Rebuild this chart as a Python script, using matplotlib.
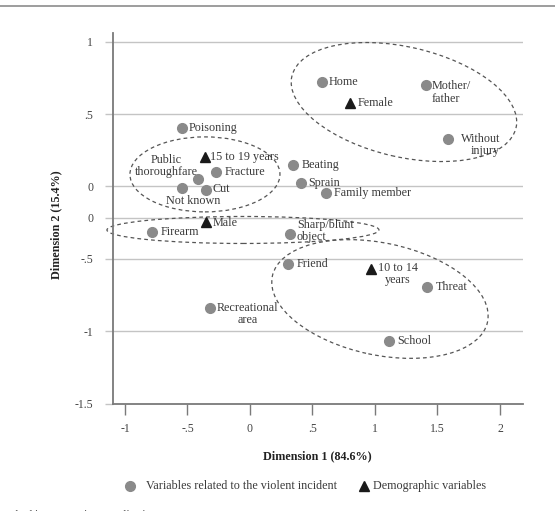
import matplotlib
matplotlib.use("Agg")
import matplotlib.pyplot as plt
from matplotlib.patches import Ellipse
from matplotlib.lines import Line2D
from matplotlib.transforms import ScaledTranslation

plt.rcParams['font.family'] = ['Liberation Serif', 'DejaVu Serif']

# Variables related to the violent incident (circles)
inc_labels = ["Home", "Mother/\nfather", "Without\ninjury", "Poisoning", "Fracture",
              "Public\nthoroughfare", "Not known", "Cut", "Beating", "Sprain",
              "Family member", "Firearm", "Sharp/blunt\nobject", "Friend", "Threat",
              "Recreational\narea", "School"]
inc_x = [0.574, 1.406, 1.586, -0.546, -0.272, -0.414, -0.546, -0.352, 0.342, 0.406,
         0.608, -0.786, 0.320, 0.302, 1.416, -0.320, 1.110]
inc_y = [0.719, 0.704, 0.328, 0.406, 0.097, 0.053, -0.013, -0.025, 0.148, 0.026,
         -0.048, -0.317, -0.329, -0.536, -0.693, -0.842, -1.066]

# Demographic variables (triangles)
dem_labels = ["Female", "15 to 19 years", "Male", "10 to 14\nyears"]
dem_x = [0.798, -0.362, -0.352, 0.966]
dem_y = [0.578, 0.203, -0.249, -0.571]

yticks = [1, 0.5, 0, -0.215, -0.5, -1, -1.5]
ytick_labels = ["1", ".5", "0", "0", "-.5", "-1", "-1.5"]
xticks = [-1, -0.5, 0, 0.5, 1, 1.5, 2]
xtick_labels = ["-1", "-.5", "0", ".5", "1", "1.5", "2"]

W, H = 555, 511
fig = plt.figure(figsize=(W / 100, H / 100), dpi=100)
ax = fig.add_axes([112.7 / W, 1 - 403.5 / H, 410 / W, 370.5 / H])
ax.set_xlim(-1.098, 2.182)
ax.set_ylim(-1.5, 1.06)

txt_col = '#3a3a3a'
grid_col = '#c4c4c4'

# grid lines
for yv in yticks[:-1]:
    ax.axhline(yv, color=grid_col, lw=1.0, zorder=0)

for s in ['top', 'right']:
    ax.spines[s].set_visible(False)
for s in ['left', 'bottom']:
    ax.spines[s].set_color('#7a7a7a')
    ax.spines[s].set_linewidth(1.3)

ax.set_xticks(xticks)
ax.set_xticklabels(xtick_labels)
ax.set_yticks(yticks)
ax.set_yticklabels(ytick_labels)
ax.tick_params(axis='x', direction='out', length=8, width=1.0, color='#7a7a7a',
               labelsize=8.5, labelcolor='#444444', pad=6)
ax.tick_params(axis='y', direction='out', length=6, width=1.0, color=grid_col,
               labelsize=8.5, labelcolor='#444444', pad=8)

ax.set_xlabel("Dimension 1 (84.6%)", fontsize=8.7, fontweight='bold', color='#222222', labelpad=11)
ax.set_ylabel("Dimension 2 (15.4%)", fontsize=8.7, fontweight='bold', color='#222222')
ax.yaxis.set_label_coords(-0.122, 0.482)

# points
ax.plot(inc_x, inc_y, 'o', ms=7, color='#8a8a8a', mec='#8a8a8a', ls='none', zorder=3)
ax.plot(dem_x, dem_y, '^', ms=7, color='#1a1a1a', ls='none', zorder=3)

# label offsets in pixels (dx, dy), alignment
inc_off = [(7, 0, 'left', 'left'), (6, -8, 'left', 'left'), (52, -6, 'right', 'right'),
           (7, 0, 'left', 'left'), (9, 0, 'left', 'left'), (-32, 13, 'center', 'center'),
           (11, -12.5, 'center', 'center'), (7, 1, 'left', 'left'), (9, 0, 'left', 'left'),
           (8, 0, 'left', 'left'), (8, 0, 'left', 'left'), (9, 0, 'left', 'left'),
           (7, 3, 'left', 'left'), (9, 0, 'left', 'left'), (9, 0, 'left', 'left'),
           (7, -6, 'left', 'center'), (9, 0, 'left', 'left')]
dem_off = [(8, 0, 'left', 'left'), (5.5, 0, 'left', 'left'), (7, -1, 'left', 'left'),
           (7, -5, 'left', 'center')]

def put(labels, xs, ys, offs):
    for lab, x, y, (dx, dy, ha, ma) in zip(labels, xs, ys, offs):
        ax.annotate(lab, (x, y), xytext=(dx, dy), textcoords='offset pixels',
                    ha=ha, va='center', multialignment=ma, fontsize=8.7,
                    color=txt_col, linespacing=1.05, zorder=4)

put(inc_labels, inc_x, inc_y, inc_off)
put(dem_labels, dem_x, dem_y, dem_off)

# dashed ellipses (center in data, size in inches)
ell_cx = [1.232, -0.36, -0.056, 1.04]
ell_cy = [0.583, 0.083, -0.301, -0.778]
ell_w = [2.30, 1.50, 2.72, 2.20]
ell_h = [1.10, 0.75, 0.27, 1.12]
ell_a = [-13, 0, 0, -12]
for cx, cy, w, h, a in zip(ell_cx, ell_cy, ell_w, ell_h, ell_a):
    tr = fig.dpi_scale_trans + ScaledTranslation(cx, cy, ax.transData)
    e = Ellipse((0, 0), w, h, angle=a, transform=tr, fill=False,
                edgecolor='#555555', lw=0.9, ls=(0, (3, 2.5)), zorder=2)
    e.set_clip_on(False)
    ax.add_artist(e)

# legend (manual)
ly = 1 - 486 / H
fig.add_artist(Line2D([130 / W], [ly], marker='o', ms=7, color='#8a8a8a', ls='none',
                      transform=fig.transFigure))
fig.text(145.7 / W, ly, "Variables related to the violent incident", fontsize=8.7,
         color=txt_col, va='center', ha='left')
fig.add_artist(Line2D([364 / W], [ly], marker='^', ms=7, color='#1a1a1a', ls='none',
                      transform=fig.transFigure))
fig.text(373 / W, ly, "Demographic variables", fontsize=8.7,
         color=txt_col, va='center', ha='left')

# top rule
fig.add_artist(Line2D([0, 1], [1 - 6.5 / H] * 2, color='#8c8c8c', lw=1.2,
                      transform=fig.transFigure))

# cut-off note at bottom
fig.text(157 / W, 1 - 514 / H, "Normalization method is symmetric normalization",
         fontsize=8, color='#444444', ha='right', va='center')

fig.savefig("out.png", dpi=100)
